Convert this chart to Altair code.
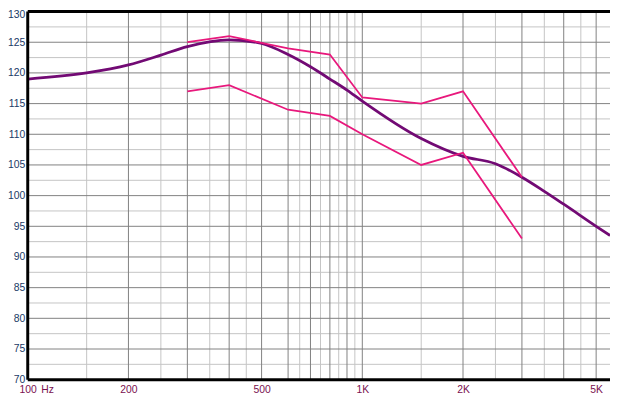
import altair as alt
import pandas as pd

# ---- data ----
curve_freq = [100, 150, 200, 250, 300, 400, 500, 600, 700, 800, 900, 1000,
              1500, 2000, 2500, 3000, 3500, 4000, 5000, 5500]
curve_db = [119.0, 120.0, 121.3, 122.9, 124.3, 125.4, 124.8, 123.0, 121.0,
            119.0, 117.2, 115.4, 109.3, 106.4, 105.2, 103.0, 100.7,
            98.6, 95.0, 93.5]

meas_freq = [300, 400, 600, 800, 1000, 1500, 2000, 3000]
upper_db = [125, 126, 124, 123, 116, 115, 117, 103]
lower_db = [117, 118, 114, 113, 110, 105, 107, 93]

major_x = [200, 300, 400, 500, 600, 700, 800, 900, 1000, 2000, 3000, 4000, 5000]
minor_x = [150, 250, 350, 450, 650, 750, 850, 950, 1500, 2500, 3500, 4500]
major_y = [75, 80, 85, 90, 95, 100, 105, 110, 115, 120, 125]
minor_y = [72.5, 77.5, 82.5, 87.5, 92.5, 97.5, 102.5, 107.5, 112.5, 117.5, 122.5, 127.5]
border_y = [70, 130]
border_x = [100]

x_ticks = [100, 200, 500, 1000, 2000, 5000]
y_ticks = [70, 75, 80, 85, 90, 95, 100, 105, 110, 115, 120, 125, 130]
unit_label = ["Hz"]
unit_pos = [114.6]

X_DOMAIN = [100, 5500]
Y_DOMAIN = [70, 130]

XLAB = "#7a1050"
YLAB = "#1a3a66"
FONT = "Liberation Sans"

xs = alt.Scale(type="log", domain=X_DOMAIN, nice=False)
ys = alt.Scale(domain=Y_DOMAIN, nice=False, zero=False)

x_axis = alt.Axis(values=x_ticks,
                  labelExpr="datum.value >= 1000 ? (datum.value/1000) + 'K' : datum.value",
                  labelFlush=False, labelOverlap=False, labelColor=XLAB, labelFont=FONT,
                  labelFontSize=10.5, labelPadding=5, domain=False, ticks=False, grid=False)
y_axis = alt.Axis(values=y_ticks, labelColor=YLAB, labelFont=FONT, labelFontSize=10.5,
                  labelPadding=3, labelFlush=False, labelOverlap=False,
                  labelOffset={"condition": {"test": "datum.value === 130", "value": 3}, "value": 0},
                  domain=False, ticks=False, grid=False)


def X(field):
    return alt.X(field, scale=xs, axis=x_axis, title=None)


def Y(field):
    return alt.Y(field, scale=ys, axis=y_axis, title=None)


curve_df = pd.DataFrame({"f": curve_freq, "db": curve_db})
meas_df = pd.concat([
    pd.DataFrame({"f": meas_freq, "db": upper_db, "s": "upper"}),
    pd.DataFrame({"f": meas_freq, "db": lower_db, "s": "lower"}),
])

minor_v = alt.Chart(pd.DataFrame({"f": minor_x})).mark_rule(color="#c4c4c4", strokeWidth=1).encode(
    x=X("f:Q"))
major_v = alt.Chart(pd.DataFrame({"f": major_x})).mark_rule(color="#808080", strokeWidth=1).encode(
    x=X("f:Q"))
minor_h = alt.Chart(pd.DataFrame({"v": minor_y})).mark_rule(color="#c4c4c4", strokeWidth=1).encode(
    y=Y("v:Q"))
major_h = alt.Chart(pd.DataFrame({"v": major_y})).mark_rule(color="#808080", strokeWidth=1).encode(
    y=Y("v:Q"))

curve = alt.Chart(curve_df).mark_line(color="#720a74", strokeWidth=2.8, interpolate="monotone").encode(
    x=X("f:Q"), y=Y("db:Q"))

meas = alt.Chart(meas_df).mark_line(color="#e8187c", strokeWidth=1.8).encode(
    x=X("f:Q"), y=Y("db:Q"), detail="s:N")

border_h = alt.Chart(pd.DataFrame({"v": border_y})).mark_rule(color="black", strokeWidth=3).encode(
    y=Y("v:Q"))
border_v = alt.Chart(pd.DataFrame({"f": border_x})).mark_rule(color="black", strokeWidth=3).encode(
    x=X("f:Q"))

unit = alt.Chart(pd.DataFrame({"f": unit_pos, "t": unit_label})).mark_text(
    color=XLAB, font=FONT, fontSize=10.5, baseline="top", align="center").encode(
    x=X("f:Q"),
    y=alt.value(378),
    text="t:N",
)

chart = alt.layer(minor_v, minor_h, major_v, major_h, curve, meas, border_h, border_v, unit).properties(
    width=590, height=373,
    autosize=alt.AutoSizeParams(type="none"),
    padding={"left": 20, "top": 1, "right": 0, "bottom": 20},
).configure_view(stroke=None).configure(background="white")

chart.save("out.html", embed_options={"renderer": "svg", "actions": False})
